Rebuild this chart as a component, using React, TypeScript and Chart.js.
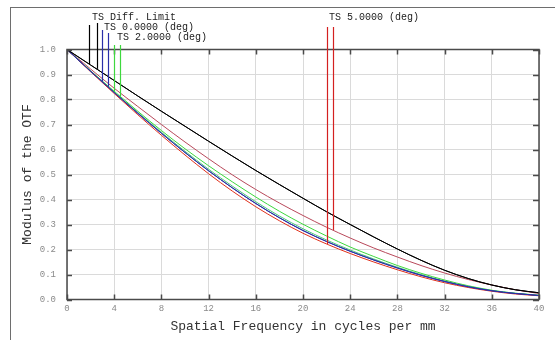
import React, { useEffect, useRef } from "react";
import { Chart, registerables } from "chart.js";

Chart.register(...registerables);

// Spatial frequency (cycles per mm)
const FREQ = [0, 2, 4, 6, 8, 10, 12, 14, 16, 18, 20, 22, 24, 26, 28, 30, 32, 34, 36, 38, 40];

// Diffraction limit (T and S identical)
const DIFF_T = [1, 0.938, 0.876, 0.814, 0.753, 0.693, 0.633, 0.574, 0.516, 0.46, 0.405, 0.351, 0.3, 0.25, 0.202, 0.157, 0.117, 0.084, 0.058, 0.039, 0.027];
const DIFF_S = [1, 0.938, 0.876, 0.814, 0.753, 0.693, 0.633, 0.574, 0.516, 0.46, 0.405, 0.351, 0.3, 0.25, 0.202, 0.157, 0.117, 0.084, 0.058, 0.039, 0.027];
// 0 deg field
const F0_T = [1, 0.913, 0.828, 0.745, 0.665, 0.588, 0.515, 0.447, 0.384, 0.327, 0.276, 0.232, 0.193, 0.158, 0.126, 0.097, 0.072, 0.051, 0.035, 0.024, 0.016];
const F0_S = [1, 0.913, 0.828, 0.745, 0.665, 0.588, 0.515, 0.447, 0.384, 0.327, 0.276, 0.232, 0.193, 0.158, 0.126, 0.097, 0.072, 0.051, 0.035, 0.024, 0.016];
// 2 deg field
const F2_T = [1, 0.914, 0.83, 0.748, 0.669, 0.593, 0.521, 0.454, 0.391, 0.334, 0.283, 0.238, 0.198, 0.162, 0.129, 0.1, 0.074, 0.053, 0.036, 0.025, 0.017];
const F2_S = [1, 0.915, 0.833, 0.753, 0.676, 0.603, 0.535, 0.471, 0.41, 0.353, 0.301, 0.254, 0.21, 0.172, 0.136, 0.105, 0.078, 0.055, 0.037, 0.025, 0.017];
// 5 deg field
const F5_T = [1, 0.911, 0.824, 0.739, 0.657, 0.578, 0.503, 0.434, 0.371, 0.315, 0.265, 0.222, 0.184, 0.15, 0.119, 0.091, 0.067, 0.048, 0.033, 0.022, 0.015];
const F5_S = [1, 0.922, 0.845, 0.772, 0.7, 0.63, 0.563, 0.499, 0.44, 0.386, 0.336, 0.289, 0.246, 0.206, 0.17, 0.136, 0.106, 0.08, 0.058, 0.039, 0.024];

const LEGEND_TEXT = ["TS Diff. Limit", "TS 0.0000 (deg)", "TS 2.0000 (deg)", "TS 5.0000 (deg)"];
const LEADER_FREQ = [[1.9, 2.5], [2.95, 3.45], [4.0, 4.5], [22.0, 22.5]];

const X_TITLE = "Spatial Frequency in cycles per mm";
const Y_TITLE = "Modulus of the OTF";

const BLACK = "#000000";
const BLUE = "#2a2fa8";
const GREEN = "#3ed83e";
const GREEN2 = "#4cc87a";
const RED = "#e0301c";
const RED2 = "#b8485a";
const LEADER_RED = "#d42020";

const MONO = "'Liberation Mono', 'DejaVu Sans Mono', monospace";

function interp(xs: number[], ys: number[], x: number) {
  for (let i = 0; i < xs.length - 1; i++) {
    if (x >= xs[i] && x <= xs[i + 1]) {
      const t = (x - xs[i]) / (xs[i + 1] - xs[i]);
      return ys[i] + t * (ys[i + 1] - ys[i]);
    }
  }
  return ys[ys.length - 1];
}

const series = (ys: number[]) => FREQ.map((f, i) => ({ x: f, y: ys[i] }));

export default function App() {
  const ref = useRef<HTMLCanvasElement | null>(null);

  useEffect(() => {
    if (!ref.current) return;

    const legendGroups = [
      { text: LEGEND_TEXT[0], tx: 92, ty: 17, color: BLACK, xs: LEADER_FREQ[0], tops: [25, 23], data: [DIFF_T, DIFF_S] },
      { text: LEGEND_TEXT[1], tx: 104, ty: 27.5, color: BLUE, xs: LEADER_FREQ[1], tops: [30, 33], data: [F0_T, F0_S] },
      { text: LEGEND_TEXT[2], tx: 117, ty: 37.5, color: GREEN, xs: LEADER_FREQ[2], tops: [45, 45], data: [F2_T, F2_S] },
      { text: LEGEND_TEXT[3], tx: 329, ty: 17, color: LEADER_RED, xs: LEADER_FREQ[3], tops: [27, 27], data: [F5_T, F5_S] },
    ];

    const framePlugin = {
      id: "zemaxFrame",
      afterDatasetsDraw(chart: any) {
        const { ctx, chartArea } = chart;
        const xs = chart.scales.x;
        const ys = chart.scales.y;
        ctx.save();
        // plot frame
        ctx.strokeStyle = "#4a4a4a";
        ctx.lineWidth = 1.5;
        ctx.strokeRect(chartArea.left, chartArea.top, chartArea.right - chartArea.left, chartArea.bottom - chartArea.top);
        // inner ticks
        xs.ticks.forEach((t: any) => {
          const px = Math.round(xs.getPixelForValue(t.value)) + 0.5;
          ctx.beginPath();
          ctx.moveTo(px, chartArea.bottom);
          ctx.lineTo(px, chartArea.bottom - 5);
          ctx.moveTo(px, chartArea.top);
          ctx.lineTo(px, chartArea.top + 5);
          ctx.stroke();
        });
        ys.ticks.forEach((t: any) => {
          const py = Math.round(ys.getPixelForValue(t.value)) + 0.5;
          ctx.beginPath();
          ctx.moveTo(chartArea.left, py);
          ctx.lineTo(chartArea.left + 5, py);
          ctx.moveTo(chartArea.right, py);
          ctx.lineTo(chartArea.right - 6, py);
          ctx.stroke();
        });
        // leader lines + legend text
        ctx.font = `10px ${MONO}`;
        ctx.textBaseline = "middle";
        ctx.textAlign = "left";
        legendGroups.forEach((g) => {
          ctx.strokeStyle = g.color;
          ctx.lineWidth = 1.2;
          g.xs.forEach((fx: number, i: number) => {
            const px = Math.round(xs.getPixelForValue(fx)) + 0.5;
            const v = interp(FREQ, g.data[i], fx);
            const py = ys.getPixelForValue(v);
            ctx.beginPath();
            ctx.moveTo(px, g.tops[i]);
            ctx.lineTo(px, py);
            ctx.stroke();
          });
          ctx.fillStyle = "#222222";
          ctx.fillText(g.text, g.tx, g.ty);
        });
        // axis titles
        ctx.fillStyle = "#333333";
        ctx.font = `13px ${MONO}`;
        ctx.textAlign = "center";
        ctx.fillText(X_TITLE, (chartArea.left + chartArea.right) / 2, chartArea.bottom + 27);
        ctx.translate(28, (chartArea.top + chartArea.bottom) / 2);
        ctx.rotate(-Math.PI / 2);
        ctx.fillText(Y_TITLE, 0, 0);
        ctx.restore();
      },
    };

    const mk = (label: string, ys: number[], color: string) => ({
      label,
      data: series(ys),
      borderColor: color,
      backgroundColor: color,
      borderWidth: 1,
      pointRadius: 0,
      tension: 0.4,
      cubicInterpolationMode: "monotone" as const,
      fill: false,
    });

    const chart = new Chart(ref.current, {
      type: "line",
      data: {
        datasets: [
          mk("Diff T", DIFF_T, BLACK),
          mk("Diff S", DIFF_S, BLACK),
          mk("0 T", F0_T, BLUE),
          mk("0 S", F0_S, BLUE),
          mk("5 T", F5_T, RED),
          mk("2 T", F2_T, GREEN2),
          mk("2 S", F2_S, GREEN),
          mk("5 S", F5_S, RED2),
        ],
      },
      plugins: [framePlugin],
      options: {
        animation: false,
        responsive: false,
        maintainAspectRatio: false,
        layout: { padding: { top: 49.5, right: 16, left: 0, bottom: 0 } },
        plugins: { legend: { display: false }, tooltip: { enabled: false } },
        scales: {
          x: {
            type: "linear",
            min: 0,
            max: 40,
            afterFit: (s: any) => { s.height = 40.5; },
            ticks: { stepSize: 4, color: "#8a8a8a", font: { family: MONO, size: 9 }, padding: 4, maxRotation: 0 },
            grid: { color: "#dadada", lineWidth: 1, drawTicks: false },
            border: { display: false },
          },
          y: {
            type: "linear",
            min: 0,
            max: 1,
            afterFit: (s: any) => { s.width = 67; },
            ticks: {
              stepSize: 0.1,
              color: "#8a8a8a",
              font: { family: MONO, size: 9 },
              padding: 11,
              callback: (v: any) => Number(v).toFixed(1),
            },
            grid: { color: "#dadada", lineWidth: 1, drawTicks: false },
            border: { display: false },
          },
        },
      },
    });
    return () => chart.destroy();
  }, []);

  return (
    <div style={{ position: "fixed", left: 0, top: 0, width: 555, height: 340, background: "#ffffff", overflow: "hidden" }}>
      <div style={{ position: "absolute", left: 10, top: 7, width: 560, height: 400, borderLeft: "1.5px solid #6e6e6e", borderTop: "1.5px solid #6e6e6e" }} />
      <canvas ref={ref} width={555} height={340} style={{ position: "absolute", left: 0, top: 0, width: 555, height: 340 }} />
    </div>
  );
}
